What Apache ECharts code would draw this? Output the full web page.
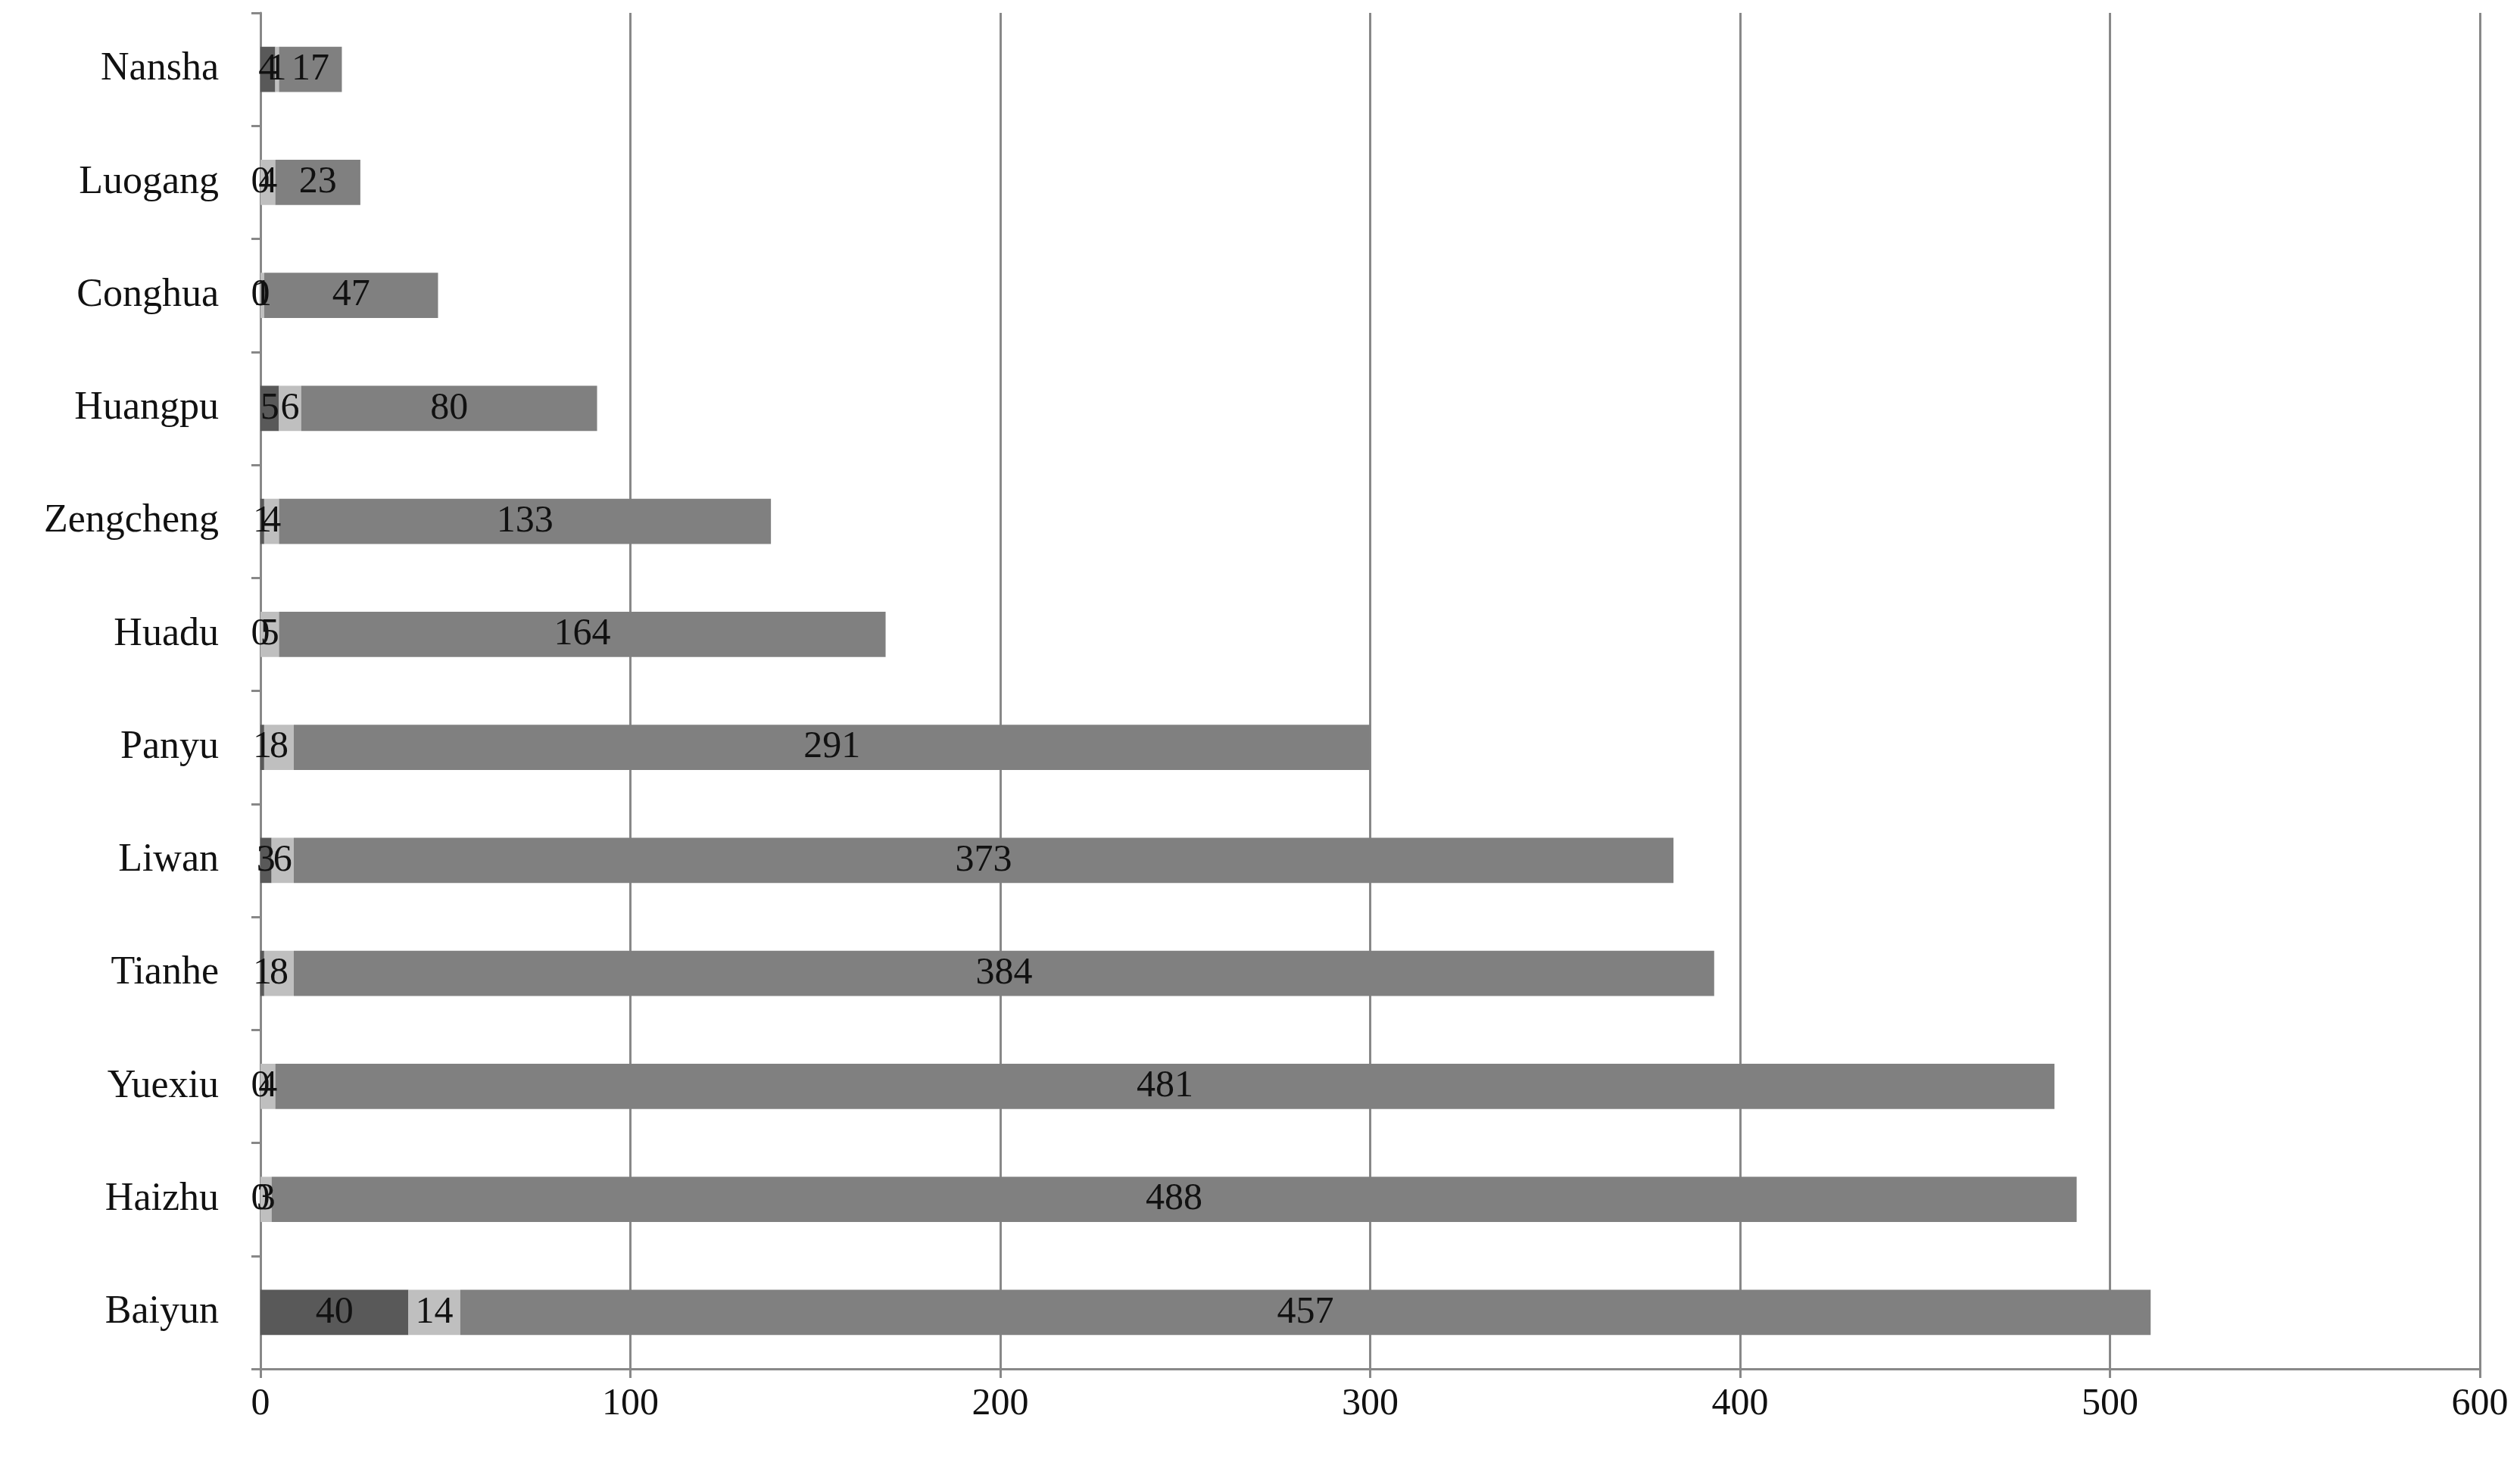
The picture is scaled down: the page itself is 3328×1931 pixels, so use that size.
<!DOCTYPE html>
<html><head><meta charset="utf-8">
<script src="https://cdn.jsdelivr.net/npm/echarts@6/dist/echarts.min.js"></script>
<style>html,body{margin:0;background:#fff}#c{width:3328px;height:1931px}</style>
</head><body><div id="c"></div>
<script>
const districts = ['Baiyun','Haizhu','Yuexiu','Tianhe','Liwan','Panyu','Huadu','Zengcheng','Huangpu','Conghua','Luogang','Nansha'];
const seriesA = [40,0,0,1,3,1,0,1,5,0,0,4];
const seriesB = [14,3,4,8,6,8,5,4,6,1,4,1];
const seriesC = [457,488,481,384,373,291,164,133,80,47,23,17];
const xTicks = [0,100,200,300,400,500,600];

const font = 'Liberation Serif, DejaVu Serif, serif';
const chart = echarts.init(document.getElementById('c'));
function mk(data, color) {
  return {
    type: 'bar', stack: 'all', data, barWidth: '40%',
    itemStyle: { color },
    label: { show: true, position: 'inside', color: '#111', fontSize: 50, fontFamily: font }
  };
}
chart.setOption({
  animation: false,
  grid: { left: 344, right: 53, top: 17, bottom: 123 },
  xAxis: {
    type: 'value', min: 0, max: 600, interval: 100,
    axisLine: { show: true, lineStyle: { color: '#888', width: 3 } },
    axisTick: { show: true, length: 12, lineStyle: { color: '#888', width: 3 } },
    splitLine: { lineStyle: { color: '#888', width: 3 } },
    axisLabel: { fontSize: 50, color: '#111', fontFamily: font, margin: 22,
      formatter: v => xTicks.includes(v) ? String(v) : '' }
  },
  yAxis: {
    type: 'category', data: districts,
    axisLine: { show: true, lineStyle: { color: '#888', width: 3 } },
    axisTick: { show: true, length: 12, lineStyle: { color: '#888', width: 3 } },
    axisLabel: { fontSize: 52, color: '#111', fontFamily: font, margin: 55 }
  },
  series: [mk(seriesA, '#595959'), mk(seriesB, '#bfbfbf'), mk(seriesC, '#808080')]
});
</script></body></html>
